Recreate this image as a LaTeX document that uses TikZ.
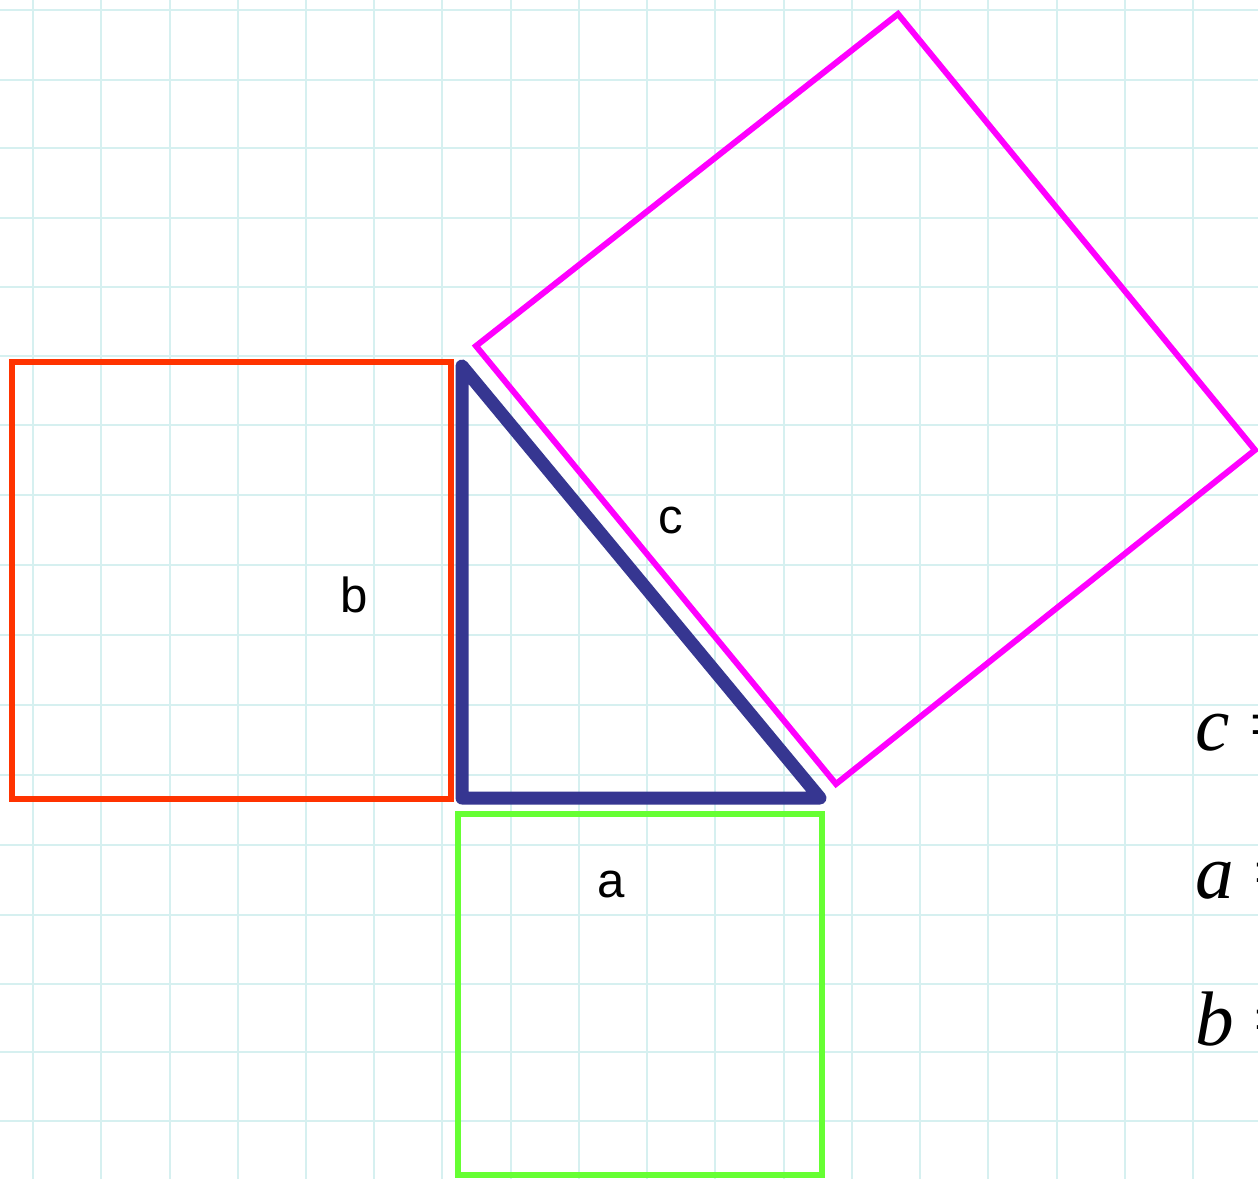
\documentclass[tikz,border=0pt]{standalone}
\usepackage{fontspec}
\setmainfont{Liberation Serif}
\setsansfont{Liberation Sans}
\begin{document}
\begin{tikzpicture}[x=0.02cm,y=-0.02cm,
  gridline/.style={draw={rgb,255:red,214;green,240;blue,240}, line width=1.3pt},
  sqline/.style={line width=3.4pt, line join=miter},
  lbl/.style={font=\sffamily\fontsize{28}{28}\selectfont, inner sep=0pt},
  eqlbl/.style={font=\rmfamily\fontsize{44}{44}\selectfont, inner sep=0pt, anchor=base west}]
\useasboundingbox (0,0) rectangle (1258,1179);
\fill[white] (0,0) rectangle (1258,1179);
% grid
\foreach \gx in {33,101,170,238,306,374,442,511,579,647,715,784,852,920,988,1057,1125,1193}
  \draw[gridline] (\gx,0) -- (\gx,1179);
\foreach \gy in {10,80,148,218,287,356,425,495,565,635,705,775,845,915,984,1052,1121}
  \draw[gridline] (0,\gy) -- (1258,\gy);
% coordinates
\coordinate (A) at (462,366);   % top of triangle
\coordinate (C) at (462,798);   % right angle
\coordinate (B) at (820,798);   % right end
\coordinate (M1) at (476,346);
\coordinate (M2) at (898,14);
\coordinate (M3) at (1255,450);
\coordinate (M4) at (836,784);
% red square
\draw[sqline, draw={rgb,255:red,255;green,51;blue,0}] (12,362) rectangle (451,799);
% green square
\draw[sqline, draw={rgb,255:red,102;green,255;blue,51}] (458,814) rectangle (822,1175);
% magenta square
\draw[sqline, draw={rgb,255:red,255;green,0;blue,255}] (M1) -- (M2) -- (M3) -- (M4) -- cycle;
% triangle
\draw[line width=7.4pt, draw={rgb,255:red,54;green,54;blue,145}, line join=round] (A) -- (C) -- (B) -- cycle;
% labels
\node[lbl] (lb) at (354,595) {b};
\node[lbl] (lc) at (671,521) {c};
\node[lbl] (la) at (611,884) {a};
\node[eqlbl] (ec) at (1195,750) {\textit{c} =};
\node[eqlbl] (ea) at (1195,898) {\textit{a} =};
\node[eqlbl] (eb) at (1195,1045) {\textit{b} =};
\end{tikzpicture}
\end{document}
